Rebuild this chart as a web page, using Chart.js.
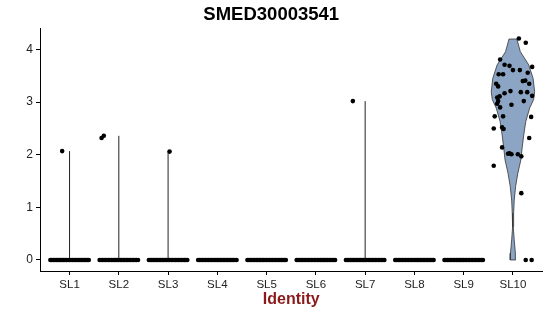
<!DOCTYPE html>
<html>
<head>
<meta charset="utf-8">
<script src="https://cdn.jsdelivr.net/npm/chart.js@4.4.1/dist/chart.umd.min.js"></script>
<style>
  html, body { margin: 0; padding: 0; background: #fff; }
  #wrap { width: 550px; height: 316px; }
</style>
</head>
<body>
<div id="wrap"><canvas id="vln"></canvas></div>
<script>
// SMED30003541 — violin plot by identity
const categories = ['SL1', 'SL2', 'SL3', 'SL4', 'SL5', 'SL6', 'SL7', 'SL8', 'SL9', 'SL10'];
const yTicks = [0, 1, 2, 3, 4];

// horizontal jitter of the cells with zero expression (SL1..SL9)
const zeroJitter = [-0.39, -0.36, -0.33, -0.30, -0.27, -0.24, -0.21, -0.18, -0.15, -0.12, -0.09, -0.06, -0.03, 0.00,
  0.03, 0.06, 0.09, 0.12, 0.15, 0.18, 0.21, 0.24, 0.27, 0.30, 0.33, 0.36, 0.39];
const zeroGroups = [1, 2, 3, 4, 5, 6, 7, 8, 9];

// few expressing cells in SL1..SL9
const outlierGroup = [1, 2, 2, 3, 7];
const outlierValue = [2.07, 2.32, 2.36, 2.06, 3.02];
const outlierJitter = [-0.15, -0.35, -0.305, 0.03, -0.25];

// thin violins (max of each group with expression)
const spikeGroup = [1, 2, 3, 7];
const spikeMax = [2.07, 2.36, 2.06, 3.02];

// SL10 cells
const sl10Value = [4.21, 4.13, 3.81, 3.71, 3.69, 3.61, 3.61, 3.67, 3.53, 3.53, 3.56, 3.40, 3.41, 3.35, 3.30, 3.35,
  3.17, 3.21, 3.19, 3.19, 3.12, 3.09, 3.11, 3.02, 2.97, 2.95, 2.90, 2.73, 2.73, 2.72, 2.50, 2.52, 2.49, 2.32,
  2.14, 2.02, 2.03, 2.01, 2.01, 1.97, 1.79, 1.27, 0, 0, 3.02];
const sl10Jitter = [0.12, 0.26, -0.26, -0.17, -0.07, 0.00, 0.14, 0.39, -0.29, -0.20, 0.30, 0.20, 0.25, -0.34, -0.30, 0.33,
  -0.17, -0.05, 0.16, 0.29, 0.39, -0.32, -0.27, 0.22, -0.32, -0.03, -0.26, -0.37, -0.20, 0.37, -0.39, -0.22, -0.19, 0.33,
  -0.22, -0.10, -0.07, -0.03, 0.10, 0.17, -0.39, 0.17, 0.26, 0.38, -0.30];

// SL10 violin outline: expression level and half width (in category units)
const violinY = [0, 0.13, 0.38, 0.63, 0.89, 1.14, 1.40, 1.65, 1.90, 2.13, 2.38, 2.63, 2.89, 3.05, 3.20, 3.45, 3.71, 3.96, 4.20];
const violinHalf = [0.055, 0.05, 0.026, 0.007, 0.014, 0.026, 0.055, 0.10, 0.16, 0.187, 0.22, 0.26, 0.34, 0.42, 0.44, 0.41, 0.32, 0.15, 0.08];

const FONT = "'Liberation Sans', Arial, Helvetica, sans-serif";

function buildPoints() {
  const pts = [];
  zeroGroups.forEach(g => zeroJitter.forEach(j => pts.push({ x: g + j, y: 0 })));
  outlierGroup.forEach((g, i) => pts.push({ x: g + outlierJitter[i], y: outlierValue[i] }));
  sl10Value.forEach((v, i) => pts.push({ x: 10 + sl10Jitter[i], y: v }));
  return pts;
}

function buildViolin() {
  const right = violinY.map((y, i) => ({ x: 10 + violinHalf[i], y }));
  const left = violinY.map((y, i) => ({ x: 10 - violinHalf[i], y })).reverse();
  const poly = right.concat(left);
  poly.push(right[0]);
  return poly;
}

const spikeSets = spikeGroup.map((g, i) => ({
  type: 'line',
  data: [{ x: g, y: 0 }, { x: g, y: spikeMax[i] }],
  showLine: true, borderColor: '#222', borderWidth: 1, pointRadius: 0, fill: false, order: 2
}));

const axisCommon = {
  grid: { drawOnChartArea: false, drawTicks: true, tickLength: 4, color: '#000' },
  border: { display: true, color: '#000', width: 1 }
};

new Chart(document.getElementById('vln'), {
  type: 'scatter',
  data: {
    datasets: [
      { type: 'scatter', data: buildPoints(), pointRadius: 2.3, pointBorderWidth: 0, pointBackgroundColor: '#000', order: 0 },
      { type: 'line', data: buildViolin(), showLine: true, tension: 0, fill: 'shape',
        backgroundColor: '#8CA5C4', borderColor: '#333', borderWidth: 0.8, pointRadius: 0, order: 1 },
      ...spikeSets
    ]
  },
  options: {
    responsive: true,
    maintainAspectRatio: false,
    animation: false,
    layout: { padding: { left: 0, right: 7.5, top: 0, bottom: 0 } },
    plugins: {
      legend: { display: false },
      tooltip: { enabled: false },
      title: { display: true, text: 'SMED30003541', color: '#000',
        font: { family: FONT, size: 18.5, weight: 'bold' }, padding: { top: 3.6, bottom: 2.2 } }
    },
    scales: {
      x: {
        type: 'linear', min: 0.4, max: 10.6,
        ...axisCommon,
        afterBuildTicks: s => { s.ticks = categories.map((c, i) => ({ value: i + 1 })); },
        afterFit: s => { s.height = 45; },
        ticks: { callback: v => categories[Math.round(v) - 1], color: '#222', font: { family: FONT, size: 11.5 },
          maxRotation: 0, autoSkip: false, padding: 3 },
        title: { display: true, text: 'Identity', color: '#8B1A1A',
          font: { family: FONT, size: 16, weight: 'bold' }, padding: { top: 0, bottom: 7 } }
      },
      y: {
        type: 'linear', min: -0.21, max: 4.41,
        ...axisCommon,
        afterBuildTicks: s => { s.ticks = yTicks.map(v => ({ value: v })); },
        afterFit: s => { s.width = 40; },
        ticks: { color: '#222', font: { family: FONT, size: 12 }, padding: 3 }
      }
    }
  }
});
</script>
</body>
</html>
